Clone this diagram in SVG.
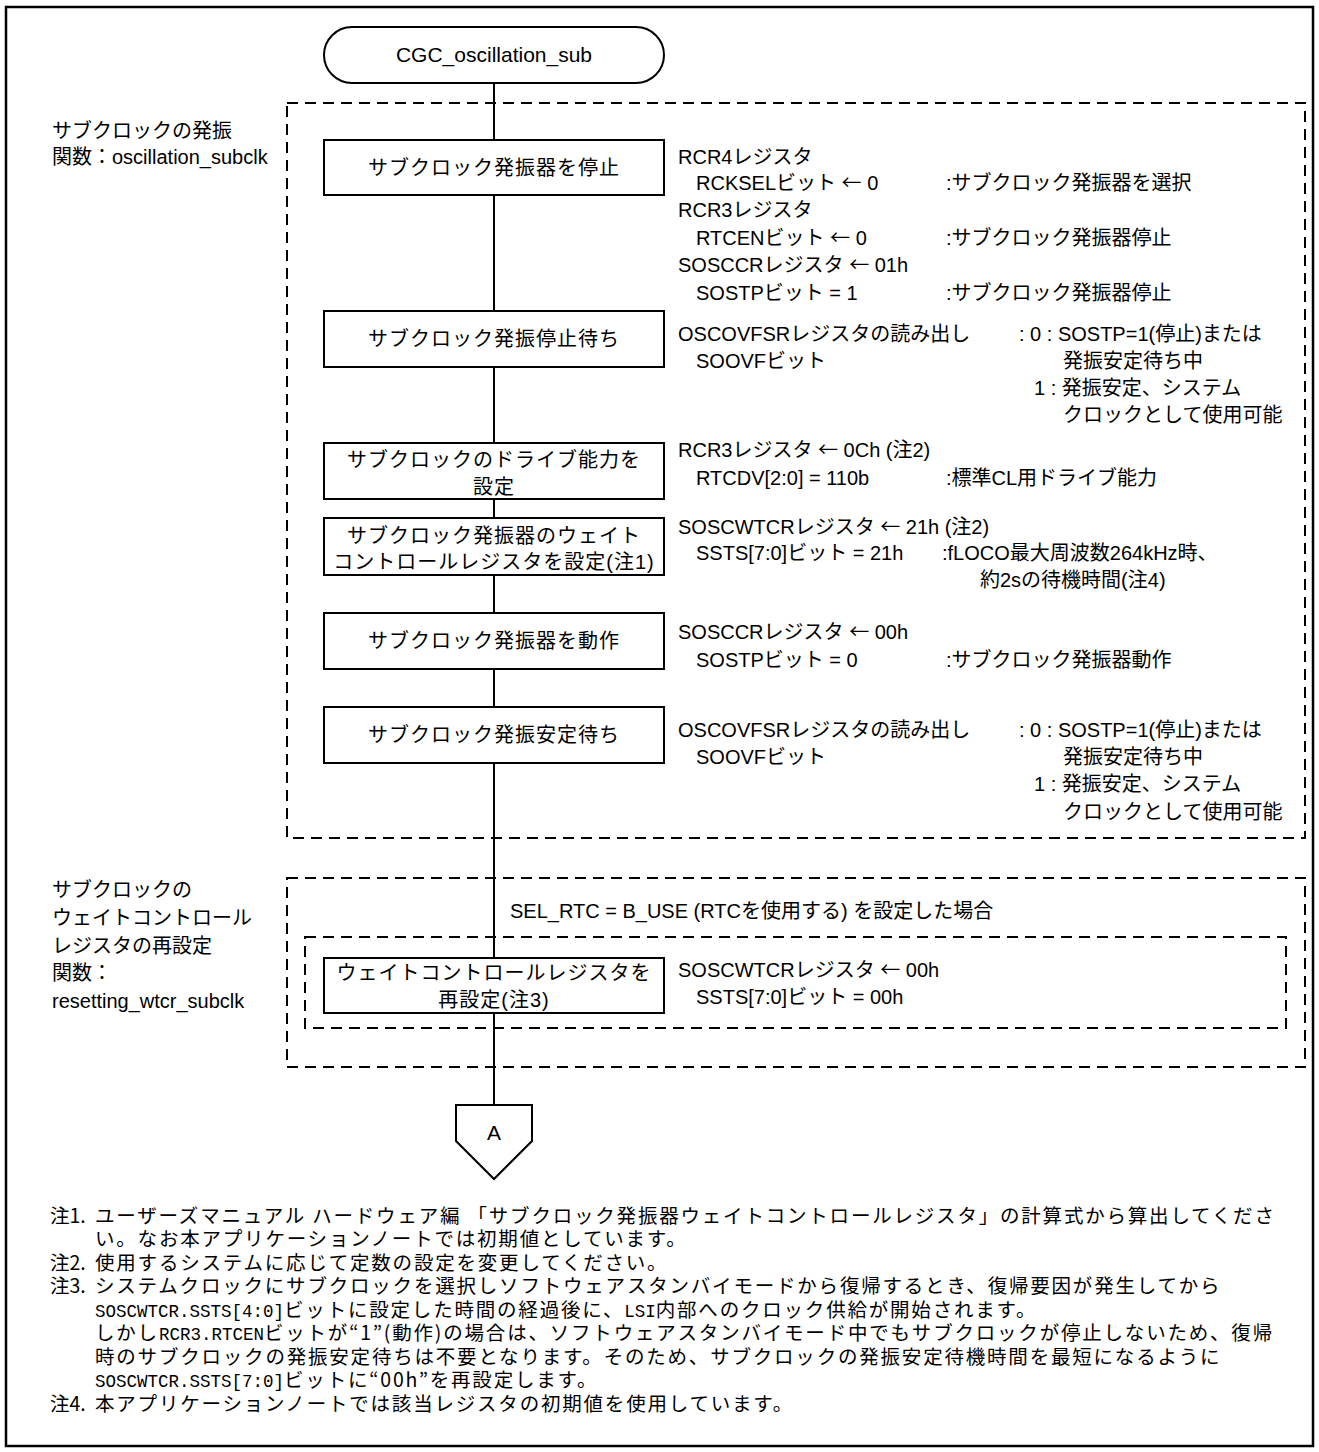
<svg xmlns="http://www.w3.org/2000/svg" width="1319" height="1452" viewBox="0 0 1319 1452">
<style>
.t{font-family:"Liberation Sans","Noto Sans CJK JP",sans-serif;font-size:20px;fill:#000}
.b{font-family:"Liberation Sans","Noto Sans CJK JP",sans-serif;font-size:20px;fill:#000;text-anchor:middle;letter-spacing:1px}
.n{font-family:"Noto Sans CJK JP",sans-serif;font-size:19.5px;letter-spacing:1.8px;fill:#000}
.m{font-family:"Liberation Mono",monospace;font-size:17.5px;letter-spacing:0}
.ar{font-family:"Noto Sans CJK JP",sans-serif}
.box{fill:#fff;stroke:#000;stroke-width:2}
.dash{fill:none;stroke:#000;stroke-width:2;stroke-dasharray:11 7}
.ln{stroke:#000;stroke-width:2;fill:none}
</style>
<rect x="6" y="7" width="1307" height="1439" fill="#fff" stroke="#000" stroke-width="2.5"/>

<g id="groups">
<rect class="dash" x="287" y="103" width="1018" height="735"/>
<rect class="dash" x="287" y="878" width="1018" height="189"/>
<rect class="dash" x="305" y="937" width="981" height="91"/>
</g>

<g id="connectors">
<line class="ln" x1="494" y1="83" x2="494" y2="140"/>
<line class="ln" x1="494" y1="195" x2="494" y2="311"/>
<line class="ln" x1="494" y1="367" x2="494" y2="443"/>
<line class="ln" x1="494" y1="499" x2="494" y2="518"/>
<line class="ln" x1="494" y1="575" x2="494" y2="613"/>
<line class="ln" x1="494" y1="669" x2="494" y2="707"/>
<line class="ln" x1="494" y1="763" x2="494" y2="958"/>
<line class="ln" x1="494" y1="1013" x2="494" y2="1105"/>
</g>

<g id="start">
<rect class="box" x="324" y="27" width="340" height="56" rx="28" ry="28"/>
<text class="t" x="494" y="62" text-anchor="middle" style="font-size:21px">CGC_oscillation_sub</text>
</g>

<g id="label-osc">
<text class="t" x="52" y="138">サブクロックの発振</text>
<text class="t" x="52" y="164">関数：oscillation_subclk</text>
</g>

<g id="n1">
<rect class="box" x="324" y="140" width="340" height="55"/>
<text class="b" x="494" y="175">サブクロック発振器を停止</text>
<text class="t" x="678" y="164">RCR4レジスタ</text>
<text class="t" x="696" y="190">RCKSELビット <tspan class="ar">←</tspan> 0</text>
<text class="t" x="946" y="190">:サブクロック発振器を選択</text>
<text class="t" x="678" y="217">RCR3レジスタ</text>
<text class="t" x="696" y="245">RTCENビット <tspan class="ar">←</tspan> 0</text>
<text class="t" x="946" y="245">:サブクロック発振器停止</text>
<text class="t" x="678" y="272">SOSCCRレジスタ <tspan class="ar">←</tspan> 01h</text>
<text class="t" x="696" y="300">SOSTPビット = 1</text>
<text class="t" x="946" y="300">:サブクロック発振器停止</text>
</g>

<g id="n2">
<rect class="box" x="324" y="311" width="340" height="56"/>
<text class="b" x="494" y="346">サブクロック発振停止待ち</text>
<text class="t" x="678" y="341">OSCOVFSRレジスタの読み出し</text>
<text class="t" x="1019" y="341">: 0 : SOSTP=1(停止)または</text>
<text class="t" x="696" y="368">SOOVFビット</text>
<text class="t" x="1063" y="368">発振安定待ち中</text>
<text class="t" x="1034" y="395">1 : 発振安定、システム</text>
<text class="t" x="1063" y="422">クロックとして使用可能</text>
</g>

<g id="n3">
<rect class="box" x="324" y="443" width="340" height="56"/>
<text class="b" x="494" y="467">サブクロックのドライブ能力を</text>
<text class="b" x="494" y="494">設定</text>
<text class="t" x="678" y="457">RCR3レジスタ <tspan class="ar">←</tspan> 0Ch (注2)</text>
<text class="t" x="696" y="485">RTCDV[2:0] = 110b</text>
<text class="t" x="946" y="485">:標準CL用ドライブ能力</text>
</g>

<g id="n4">
<rect class="box" x="324" y="518" width="340" height="57"/>
<text class="b" x="494" y="543">サブクロック発振器のウェイト</text>
<text class="b" x="494" y="569">コントロールレジスタを設定(注1)</text>
<text class="t" x="678" y="534">SOSCWTCRレジスタ <tspan class="ar">←</tspan> 21h (注2)</text>
<text class="t" x="696" y="560">SSTS[7:0]ビット = 21h</text>
<text class="t" x="942" y="560">:fLOCO最大周波数264kHz時、</text>
<text class="t" x="980" y="587">約2sの待機時間(注4)</text>
</g>

<g id="n5">
<rect class="box" x="324" y="613" width="340" height="56"/>
<text class="b" x="494" y="648">サブクロック発振器を動作</text>
<text class="t" x="678" y="639">SOSCCRレジスタ <tspan class="ar">←</tspan> 00h</text>
<text class="t" x="696" y="667">SOSTPビット = 0</text>
<text class="t" x="946" y="667">:サブクロック発振器動作</text>
</g>

<g id="n6">
<rect class="box" x="324" y="707" width="340" height="56"/>
<text class="b" x="494" y="742">サブクロック発振安定待ち</text>
<text class="t" x="678" y="737">OSCOVFSRレジスタの読み出し</text>
<text class="t" x="1019" y="737">: 0 : SOSTP=1(停止)または</text>
<text class="t" x="696" y="764">SOOVFビット</text>
<text class="t" x="1063" y="764">発振安定待ち中</text>
<text class="t" x="1034" y="791">1 : 発振安定、システム</text>
<text class="t" x="1063" y="819">クロックとして使用可能</text>
</g>

<g id="label-wtcr">
<text class="t" x="52" y="897">サブクロックの</text>
<text class="t" x="52" y="925">ウェイトコントロール</text>
<text class="t" x="52" y="953">レジスタの再設定</text>
<text class="t" x="52" y="980">関数：</text>
<text class="t" x="52" y="1008">resetting_wtcr_subclk</text>
<text class="t" x="510" y="918">SEL_RTC = B_USE (RTCを使用する) を設定した場合</text>
</g>

<g id="n7">
<rect class="box" x="324" y="958" width="340" height="55"/>
<text class="b" x="494" y="980">ウェイトコントロールレジスタを</text>
<text class="b" x="494" y="1007">再設定(注3)</text>
<text class="t" x="678" y="977">SOSCWTCRレジスタ <tspan class="ar">←</tspan> 00h</text>
<text class="t" x="696" y="1004">SSTS[7:0]ビット = 00h</text>
</g>

<g id="offpage-A">
<polygon class="box" points="456,1105 532,1105 532,1141 494,1179 456,1141"/>
<text class="t" x="494" y="1140" text-anchor="middle" style="font-size:21px">A</text>
</g>

<g id="notes">
<text class="n" x="50" y="1223" style="letter-spacing:0">注1.</text>
<text class="n" x="95" y="1223">ユーザーズマニュアル ハードウェア編 「サブクロック発振器ウェイトコントロールレジスタ」の計算式から算出してくださ</text>
<text class="n" x="95" y="1246">い。なお本アプリケーションノートでは初期値としています。</text>
<text class="n" x="50" y="1270" style="letter-spacing:0">注2.</text>
<text class="n" x="95" y="1270">使用するシステムに応じて定数の設定を変更してください。</text>
<text class="n" x="50" y="1293" style="letter-spacing:0">注3.</text>
<text class="n" x="95" y="1293">システムクロックにサブクロックを選択しソフトウェアスタンバイモードから復帰するとき、復帰要因が発生してから</text>
<text class="n" x="95" y="1317"><tspan class="m">SOSCWTCR.SSTS[4:0]</tspan>ビットに設定した時間の経過後に、<tspan class="m">LSI</tspan>内部へのクロック供給が開始されます。</text>
<text class="n" x="95" y="1340">しかし<tspan class="m">RCR3.RTCEN</tspan>ビットが“1”(動作)の場合は、ソフトウェアスタンバイモード中でもサブクロックが停止しないため、復帰</text>
<text class="n" x="95" y="1364">時のサブクロックの発振安定待ちは不要となります。そのため、サブクロックの発振安定待機時間を最短になるように</text>
<text class="n" x="95" y="1387"><tspan class="m">SOSCWTCR.SSTS[7:0]</tspan>ビットに“00h”を再設定します。</text>
<text class="n" x="50" y="1411" style="letter-spacing:0">注4.</text>
<text class="n" x="95" y="1411">本アプリケーションノートでは該当レジスタの初期値を使用しています。</text>
</g>
</svg>
